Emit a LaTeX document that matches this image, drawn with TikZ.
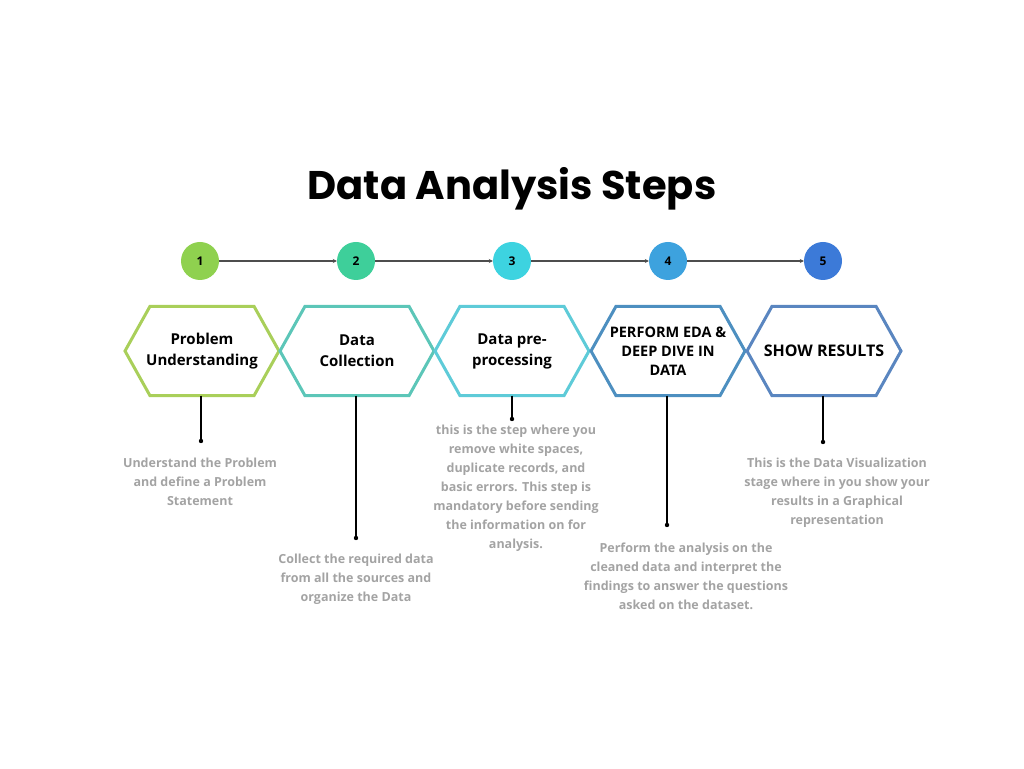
\documentclass[tikz,border=0pt]{standalone}
\usepackage{fontspec}
\setmainfont{Open Sans}
\newfontfamily\titlefont{Poppins}
\usetikzlibrary{arrows.meta}

\definecolor{stepA}{HTML}{8FD14F}
\definecolor{stepB}{HTML}{3ECF9A}
\definecolor{stepC}{HTML}{3DD3E0}
\definecolor{stepD}{HTML}{3DA2DE}
\definecolor{stepE}{HTML}{3C7AD8}
\definecolor{hexA}{HTML}{A9CF5A}
\definecolor{hexB}{HTML}{5CC6B8}
\definecolor{hexC}{HTML}{5ECBD8}
\definecolor{hexD}{HTML}{4D8FC0}
\definecolor{hexE}{HTML}{5A86C0}
\definecolor{note}{HTML}{A3A3A3}
\definecolor{link}{HTML}{4D4D4D}

\tikzset{
  num/.style={circle, minimum size=38pt, inner sep=0pt, font=\bfseries\fontsize{12}{14}\selectfont},
  hexbox/.style={minimum width=104pt, minimum height=89pt, inner sep=0pt, align=center,
    font=\bfseries\fontsize{15}{21}\selectfont},
  hexline/.style={line width=3pt, line join=miter},
  notetext/.style={anchor=north, align=center, text=note, inner sep=0pt,
    font=\bfseries\fontsize{12.5}{19}\selectfont},
  arrowline/.style={link, line width=1.3pt, -{Stealth[length=4pt, width=4pt]}},
  pin/.style={line width=1.3pt}
}

\begin{document}
\begin{tikzpicture}[x=1pt, y=1pt]
		\useasboundingbox (0, 0) rectangle (1024, 768);
		%%%%%%%%%%%%%
		\node (title) at (512, 579) {\titlefont\bfseries\fontsize{40}{46}\selectfont Data Analysis Steps};
		%%%%%%%%%%%%%
		\node [num, fill=stepA] (c1) at (200, 507) {1};
		\node [num, fill=stepB] (c2) at (356, 507) {2};
		\node [num, fill=stepC] (c3) at (512, 507) {3};
		\node [num, fill=stepD] (c4) at (668, 507) {4};
		\node [num, fill=stepE] (c5) at (823, 507) {5};
		\draw [arrowline] (c1) to (c2);
		\draw [arrowline] (c2) to (c3);
		\draw [arrowline] (c3) to (c4);
		\draw [arrowline] (c4) to (c5);
		%%%%%%%%%%%%%
		\node [hexbox] (h1) at (202, 417) {Problem\\Understanding};
		\node [hexbox] (h2) at (357, 417) {Data\\Collection};
		\node [hexbox] (h3) at (512, 417) {Data pre-\\processing};
		\node [hexbox, font=\bfseries\fontsize{14.5}{19}\selectfont] (h4) at (668, 417) {PERFORM EDA \&\\DEEP DIVE IN\\DATA};
		\node [hexbox, font=\bfseries\fontsize{16}{19}\selectfont] (h5) at (824, 417) {SHOW RESULTS};
		\foreach \h/\c in {h1/hexA, h2/hexB, h3/hexC, h4/hexD, h5/hexE}
			\draw [hexline, \c] ([xshift=-52pt]\h.north) -- ([xshift=52pt]\h.north) -- ([xshift=77pt]\h.center)
				-- ([xshift=52pt]\h.south) -- ([xshift=-52pt]\h.south) -- ([xshift=-77pt]\h.center) -- cycle;
		%%%%%%%%%%%%%
		\coordinate (d1) at (201, 327);
		\coordinate (d2) at (356, 230);
		\coordinate (d3) at (512, 349);
		\coordinate (d4) at (667, 243);
		\coordinate (d5) at (823, 326);
		\foreach \h/\d in {h1/d1, h2/d2, h3/d3, h4/d4, h5/d5} {
			\draw [pin] (\h.south -| \d) to (\d);
			\fill (\d) circle (2.2pt);
		}
		%%%%%%%%%%%%%
		\node [notetext] (t1) at (200, 310) {Understand the Problem\\and define a Problem\\Statement};
		\node [notetext] (t2) at (356, 214) {Collect the required data\\from all the sources and\\organize the Data};
		\node [notetext] (t3) at (516, 343) {this is the step where you\\remove white spaces,\\duplicate records, and\\basic errors. This step is\\mandatory before sending\\the information on for\\analysis.};
		\node [notetext] (t4) at (686, 225) {Perform the analysis on the\\cleaned data and interpret the\\findings to answer the questions\\asked on the dataset.};
		\node [notetext] (t5) at (837, 310) {This is the Data Visualization\\stage where in you show your\\results in a Graphical\\representation};
\end{tikzpicture}
\end{document}
